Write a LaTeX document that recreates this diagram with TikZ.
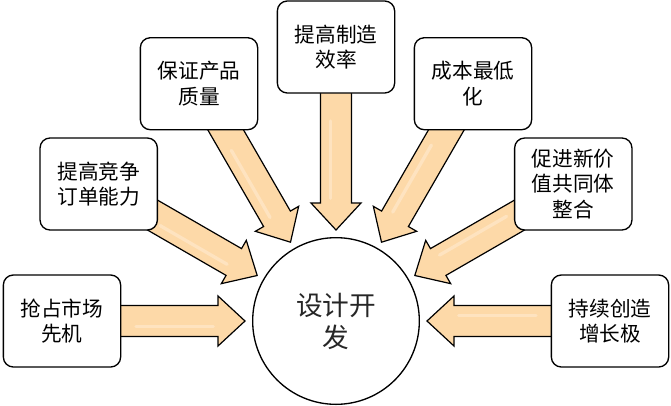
\documentclass[tikz,border=0pt]{standalone}
\usepackage{fontspec}
\newfontfamily\cjk{Noto Sans CJK SC}
\usetikzlibrary{calc,backgrounds}
\definecolor{arrfill}{HTML}{FDD9A8}
\definecolor{arrlight}{HTML}{FFEBD0}
\tikzset{
  box/.style={draw=black, line width=1pt, rounded corners=7.5pt, fill=white,
    minimum width=88pt, minimum height=69pt, align=center, inner sep=2pt,
    font=\cjk\fontsize{15.5pt}{19pt}\selectfont},
  hub/.style={draw=black, line width=1pt, circle, minimum size=125pt, align=center,
    font=\cjk\fontsize{20pt}{24pt}\selectfont, text=black!85},
  barrow/.style={draw=black, line width=0.9pt, line join=miter, fill=arrfill},
  gloss/.style={draw=arrlight, line width=2.5pt, line cap=round}
}
\newcommand\blockarr[1]{%
  \coordinate (tip) at ($(c)!68.25pt!(#1)$);
  \coordinate (hb) at ($(c)!88.5pt!(#1)$);
  \coordinate (se) at ($(c)!205pt!(#1)$);
  \draw[barrow] (tip) -- ($(hb)!18.75pt!90:(#1)$) -- ($(hb)!11.6pt!90:(#1)$)
    -- ($(se)!11.6pt!90:(#1)$) -- ($(se)!11.6pt!-90:(#1)$)
    -- ($(hb)!11.6pt!-90:(#1)$) -- ($(hb)!18.75pt!-90:(#1)$) -- cycle;
  \coordinate (g1) at ($(c)!92pt!(#1)$);
  \coordinate (g2) at ($(c)!150pt!(#1)$);
  \draw[gloss, opacity=0.6] ($(g1)!4pt!90:(#1)$) -- ($(g2)!4pt!90:(#1)$);
}
\begin{document}
\begin{tikzpicture}[x=0.75pt, y=0.75pt]
\useasboundingbox (0,0) rectangle (671,405);
\node[hub] (c) at (336,84) {设计开\\发};
\node[box] (b1) at ($(c)+(180:205.5pt)$) {抢占市场\\先机};
\node[box] (b2) at ($(c)+(150:205.5pt)$) {提高竞争\\订单能力};
\node[box] (b3) at ($(c)+(120:205.5pt)$) {保证产品\\质量};
\node[box] (b4) at ($(c)+(90:205.5pt)$) {提高制造\\效率};
\node[box] (b5) at ($(c)+(60:205.5pt)$) {成本最低\\化};
\node[box] (b6) at ($(c)+(30:205.5pt)$) {促进新价\\值共同体\\整合};
\node[box] (b7) at ($(c)+(0:205.5pt)$) {持续创造\\增长极};
\begin{pgfonlayer}{background}
\blockarr{b1}
\blockarr{b2}
\blockarr{b3}
\blockarr{b4}
\blockarr{b5}
\blockarr{b6}
\blockarr{b7}
\end{pgfonlayer}
\end{tikzpicture}
\end{document}
